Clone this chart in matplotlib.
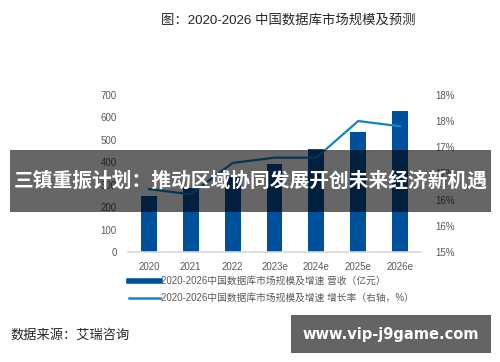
import numpy as np
import matplotlib.pyplot as plt
from matplotlib.patches import Rectangle
from matplotlib.lines import Line2D

plt.rcParams['font.family'] = ['Liberation Sans', 'Noto Sans CJK SC', 'DejaVu Sans']

years = ['2020', '2021', '2022', '2023e', '2024e', '2025e', '2026e']
revenue = [247.1, 286.8, 334.7, 390.8, 456.5, 536.4, 629.7]
growth = [16.2, 16.1, 16.7, 16.8, 16.8, 17.5, 17.4]
left_ticks = [0, 100, 200, 300, 400, 500, 600, 700]
right_ticks = [15.0, 15.5, 16.0, 16.5, 17.0, 17.5, 18.0]
right_labels = ['15%', '16%', '16%', '17%', '17%', '18%', '18%']

bar_color = '#00519C'
line_color = '#1584C6'
tick_color = '#595959'

fig = plt.figure(figsize=(5, 3.62), dpi=100)
ax = fig.add_axes([0.256, 0.304, 0.586, 0.434])
x = np.arange(len(years))
ax.bar(x, revenue, width=0.38, color=bar_color, zorder=2)
ax.set_xlim(-0.5, len(years) - 0.5)
ax.set_ylim(0, 700)
ax.set_yticks(left_ticks)
ax.set_xticks(x)
ax.set_xticklabels(years)
for s in ['top', 'right', 'left']:
    ax.spines[s].set_visible(False)
ax.spines['bottom'].set_color('#d9d9d9')
ax.spines['bottom'].set_linewidth(1.2)
ax.tick_params(axis='both', length=0, labelsize=7, colors=tick_color)
ax.tick_params(axis='y', pad=8)
ax.tick_params(axis='x', pad=7)

ax2 = ax.twinx()
ax2.plot(x, growth, color=line_color, lw=1.6, zorder=3)
ax2.set_ylim(15, 18)
ax2.set_yticks(right_ticks)
ax2.set_yticklabels(right_labels)
for s in ax2.spines.values():
    s.set_visible(False)
ax2.tick_params(axis='y', length=0, labelsize=7, colors=tick_color, pad=10)

# title
fig.text(0.576, 1 - 20 / 362, '图：2020-2026 中国数据库市场规模及预测', ha='center', va='center',
         fontsize=9.6, color='#262626')

# legend
handles = [Line2D([], [], color=bar_color, lw=4), Line2D([], [], color=line_color, lw=1.8)]
labels = ['2020-2026中国数据库市场规模及增速 营收（亿元）',
          '2020-2026中国数据库市场规模及增速 增长率（右轴，%）']
fig.legend(handles, labels, loc='upper left', bbox_to_anchor=(0.258, 1 - 276 / 362),
           frameon=False, fontsize=7, handlelength=3.2, handletextpad=0.1,
           labelspacing=0.75, labelcolor=tick_color, borderaxespad=0, borderpad=0)

# source
fig.text(10 / 500, 1 - 335 / 362, '数据来源：艾瑞咨询', ha='left', va='center',
         fontsize=9.5, color='#262626')

# overlay banner
fig.add_artist(Rectangle((10 / 500, 1 - 212 / 362), 481 / 500, 62 / 362,
                         transform=fig.transFigure, color='black', alpha=0.6,
                         lw=0, zorder=5))
fig.text(250.5 / 500, 1 - 181 / 362, '三镇重振计划：推动区域协同发展开创未来经济新机遇',
         ha='center', va='center', fontsize=14.2, fontweight='bold', color='white',
         family=['Noto Sans CJK SC'], zorder=6)

# watermark box
fig.add_artist(Rectangle((291 / 500, 1 - 353 / 362), 200 / 500, 38 / 362,
                         transform=fig.transFigure, color='#646464', lw=0, zorder=5))
fig.text(391 / 500, 1 - 334 / 362, 'www.vip-j9game.com', ha='center', va='center',
         fontsize=10.5, fontweight='bold', color='white', family=['DejaVu Sans'], zorder=6)

fig.savefig('out.png', dpi=100)
